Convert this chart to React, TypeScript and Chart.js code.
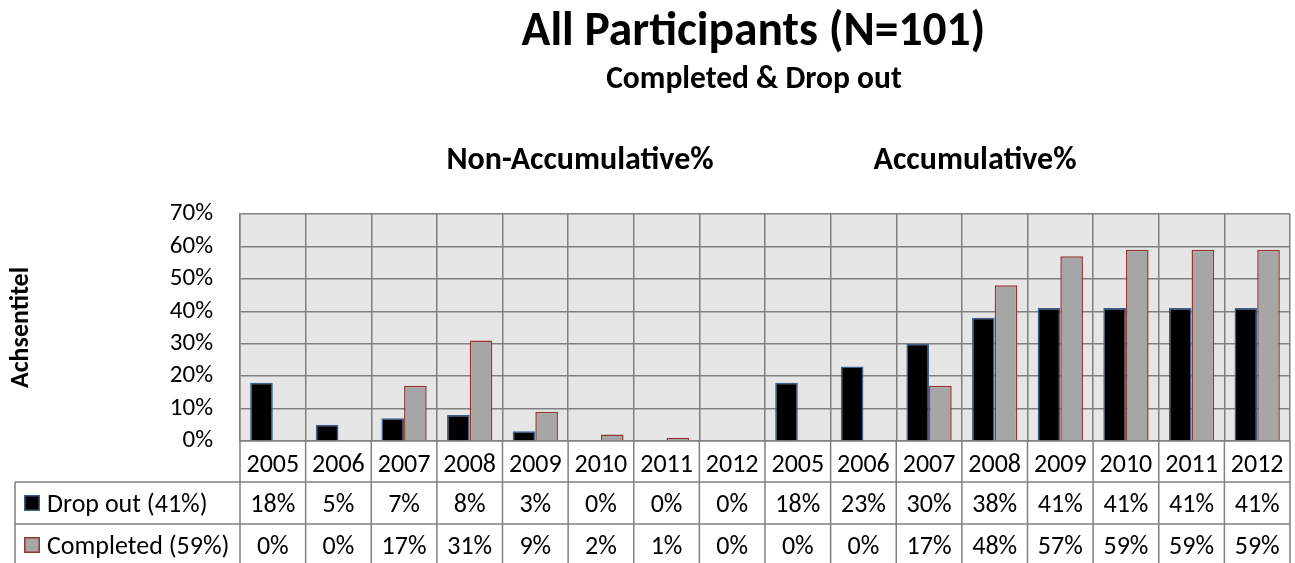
import React, { useEffect, useRef } from "react";
import { Chart, registerables } from "chart.js";

Chart.register(...registerables);

// ---------- data ----------
const years = ["2005", "2006", "2007", "2008", "2009", "2010", "2011", "2012"];
const categories = [...years, ...years];
const dropOut = [18, 5, 7, 8, 3, 0, 0, 0, 18, 23, 30, 38, 41, 41, 41, 41];
const completed = [0, 0, 17, 31, 9, 2, 1, 0, 0, 0, 17, 48, 57, 59, 59, 59];
const seriesLabels = ["Drop out (41%)", "Completed (59%)"];
const yTickValues = [0, 10, 20, 30, 40, 50, 60, 70];
const sectionLabels = ["Non-Accumulative%", "Accumulative%"];
const titleText = "All Participants (N=101)";
const subtitleText = "Completed & Drop out";
const yAxisTitle = "Achsentitel";

// ---------- style ----------
const FONT = "Carlito, Calibri, Lato, sans-serif";
const GRID = "#808080";
const PLOT_BG = "#e6e6e6";
const dropFill = "#000000";
const dropBorder = "#3b5f8d";
const compFill = "#a6a6a6";
const compBorder = "#953735";
const W = 1295;
const H = 563;

const decorPlugin = {
  id: "decor",
  beforeDraw(chart: any) {
    const { ctx, chartArea: a } = chart;
    ctx.save();
    ctx.fillStyle = "#ffffff";
    ctx.fillRect(0, 0, chart.width, chart.height);
    ctx.fillStyle = PLOT_BG;
    ctx.fillRect(a.left, a.top, a.right - a.left, a.bottom - a.top);
    ctx.restore();
  },
  afterDraw(chart: any) {
    const { ctx, chartArea: a, scales } = chart;
    const x = scales.x;
    const n = categories.length;
    const step = (a.right - a.left) / n;
    const rowTops = [a.bottom, a.bottom + 41, a.bottom + 83];
    const tableLeft = 15;

    ctx.save();
    // titles
    ctx.fillStyle = "#000";
    ctx.textAlign = "center";
    ctx.textBaseline = "alphabetic";
    ctx.font = `bold 47.5px ${FONT}`;
    ctx.fillText(titleText, 753.5, 45);
    ctx.font = `bold 31.5px ${FONT}`;
    ctx.fillText(subtitleText, 754, 88);
    ctx.font = `bold 32px ${FONT}`;
    ctx.fillText(sectionLabels[0], 580, 169);
    ctx.fillText(sectionLabels[1], 975, 169);

    // table grid
    ctx.strokeStyle = GRID;
    ctx.lineWidth = 1.5;
    ctx.beginPath();
    for (let i = 0; i <= n; i++) {
      const px = a.left + i * step;
      ctx.moveTo(px, a.bottom);
      ctx.lineTo(px, H);
    }
    ctx.moveTo(tableLeft, rowTops[1]);
    ctx.lineTo(tableLeft, H);
    ctx.moveTo(tableLeft, rowTops[1]);
    ctx.lineTo(a.right, rowTops[1]);
    ctx.moveTo(tableLeft, rowTops[2]);
    ctx.lineTo(a.right, rowTops[2]);
    ctx.stroke();

    // header row (years)
    ctx.font = `26px ${FONT}`;
    ctx.fillStyle = "#000";
    ctx.textAlign = "center";
    categories.forEach((c, i) => {
      ctx.fillText(c, x.getPixelForValue(i), rowTops[0] + 31);
    });

    // data rows
    const series = [dropOut, completed];
    const fills = [dropFill, compFill];
    const borders = [dropBorder, compBorder];
    series.forEach((vals, r) => {
      const top = rowTops[r + 1];
      const base = top + 29.5;
      ctx.textAlign = "center";
      ctx.fillStyle = "#000";
      vals.forEach((v, i) => {
        ctx.fillText(v + "%", x.getPixelForValue(i), base);
      });
      // legend key
      ctx.fillStyle = fills[r];
      ctx.fillRect(24, top + 13, 16, 16);
      ctx.strokeStyle = borders[r];
      ctx.lineWidth = 1.5;
      ctx.strokeRect(24.75, top + 13.75, 14.5, 14.5);
      ctx.fillStyle = "#000";
      ctx.textAlign = "left";
      ctx.fillText(seriesLabels[r], 47, base);
    });
    ctx.restore();
  },
};

export default function App() {
  const ref = useRef<HTMLCanvasElement | null>(null);
  useEffect(() => {
    if (!ref.current) return;
    Chart.defaults.font.family = FONT;
    const chart = new Chart(ref.current, {
      type: "bar",
      data: {
        labels: categories,
        datasets: [
          {
            label: seriesLabels[0],
            data: dropOut,
            backgroundColor: dropFill,
            borderColor: dropBorder,
            borderWidth: 1.5,
            categoryPercentage: 0.69,
            barPercentage: 1,
          },
          {
            label: seriesLabels[1],
            data: completed,
            backgroundColor: compFill,
            borderColor: compBorder,
            borderWidth: 1.5,
            categoryPercentage: 0.69,
            barPercentage: 1,
          },
        ],
      },
      options: {
        animation: false,
        responsive: true,
        maintainAspectRatio: false,
        layout: { padding: { top: 214, right: 5, bottom: 122, left: 0 } },
        plugins: {
          legend: { display: false },
          title: { display: false },
          tooltip: { enabled: false },
        },
        scales: {
          x: {
            type: "category",
            ticks: { display: false },
            grid: { offset: true, color: GRID, lineWidth: 1.5, drawTicks: false },
            border: { display: true, color: GRID, width: 1.5 },
          },
          y: {
            min: 0,
            max: 70,
            afterBuildTicks: (s: any) => {
              s.ticks = yTickValues.map((v) => ({ value: v }));
            },
            afterFit: (s: any) => {
              s.width = 240;
            },
            ticks: {
              autoSkip: false,
              padding: 27,
              color: "#000",
              font: { size: 25, family: FONT },
              callback: (v: any) => v + "%",
            },
            grid: { color: GRID, lineWidth: 1.5, drawTicks: false },
            border: { display: true, color: GRID, width: 1.5 },
            title: {
              display: true,
              text: yAxisTitle,
              color: "#000",
              font: { size: 26, weight: "bold", family: FONT },
              padding: { top: 6, bottom: 0 },
            },
          },
        },
      },
      plugins: [decorPlugin],
    });
    return () => chart.destroy();
  }, []);
  return (
    <div style={{ position: "absolute", left: 0, top: 0, width: W, height: H, background: "#fff" }}>
      <canvas ref={ref} />
    </div>
  );
}
